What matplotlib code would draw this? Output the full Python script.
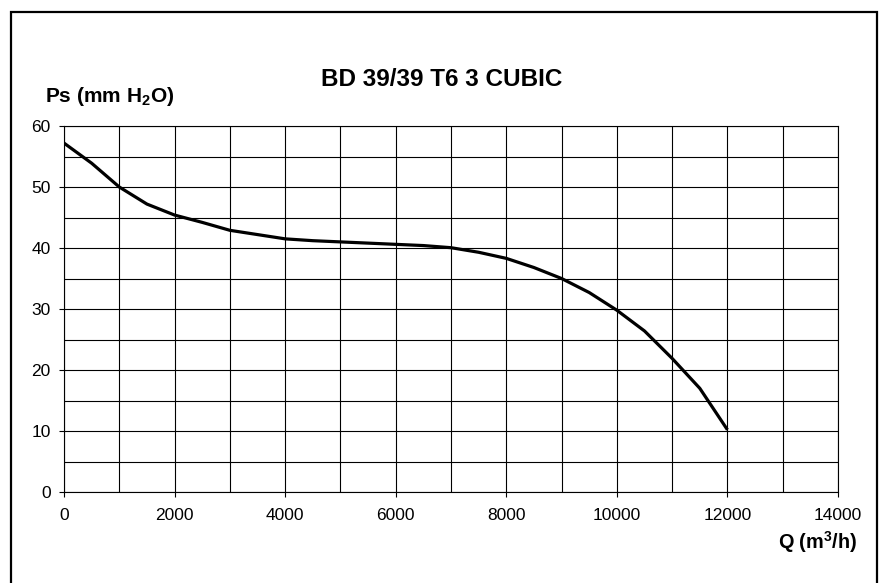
import matplotlib
matplotlib.use("Agg")
import matplotlib.pyplot as plt
from matplotlib.patches import Rectangle
from matplotlib.ticker import MultipleLocator

plt.rcParams['font.family'] = ['Liberation Sans', 'DejaVu Sans']
plt.rcParams['mathtext.fontset'] = 'custom'
plt.rcParams['mathtext.rm'] = 'Liberation Sans:bold'
plt.rcParams['mathtext.it'] = 'Liberation Sans:bold'
plt.rcParams['mathtext.bf'] = 'Liberation Sans:bold'

title = "BD 39/39 T6 3 CUBIC"
q_flow = [0, 500, 1000, 1500, 2000, 2500, 3000, 3500, 4000, 4500, 5000, 5500,
          6000, 6500, 7000, 7500, 8000, 8500, 9000, 9500, 10000, 10500, 11000,
          11500, 12000]
ps_pressure = [57.2, 53.9, 50.0, 47.2, 45.4, 44.2, 42.9, 42.2, 41.5, 41.2, 41.0,
               40.8, 40.6, 40.4, 40.05, 39.3, 38.3, 36.8, 35.0, 32.7, 29.8,
               26.4, 21.9, 17.0, 10.2]
x_ticks = [0, 2000, 4000, 6000, 8000, 10000, 12000, 14000]
y_ticks = [0, 10, 20, 30, 40, 50, 60]

fig = plt.figure(figsize=(8.8, 5.83), dpi=100)
ax = fig.add_axes([64/880, 1-492/583, (838-64)/880, (492-126)/583])

ax.plot(q_flow, ps_pressure, color='black', lw=2.3, solid_capstyle='butt', zorder=3)

ax.set_xlim(0, 14000)
ax.set_ylim(0, 60)
ax.set_xticks(x_ticks)
ax.set_yticks(y_ticks)
ax.xaxis.set_minor_locator(MultipleLocator(1000))
ax.yaxis.set_minor_locator(MultipleLocator(5))
ax.grid(True, which='both', color='black', lw=0.8)
ax.tick_params(which='minor', length=0)
ax.tick_params(which='major', length=3.6, width=0.8, labelsize=12.5)
ax.tick_params(axis='y', pad=6)
ax.tick_params(axis='x', pad=8)
for s in ax.spines.values():
    s.set_linewidth(0.8)

fig.text(442/880, 1-80/583, title, fontsize=17.5, fontweight='bold',
         ha='center', va='center')
fig.text(45/880, 1-97/583, "Ps (mm H$_2$O)", fontsize=15, fontweight='bold',
         ha='left', va='center')
fig.text(857/880, 1-542/583, "Q (m$^3$/h)", fontsize=14.3, fontweight='bold',
         ha='right', va='center')

fig.patches.append(Rectangle((10.5/880, -0.05), (877-10.5)/880, 1.05-12.5/583,
                             transform=fig.transFigure, fill=False,
                             edgecolor='black', lw=1.6))

fig.savefig("out.png", dpi=100)
